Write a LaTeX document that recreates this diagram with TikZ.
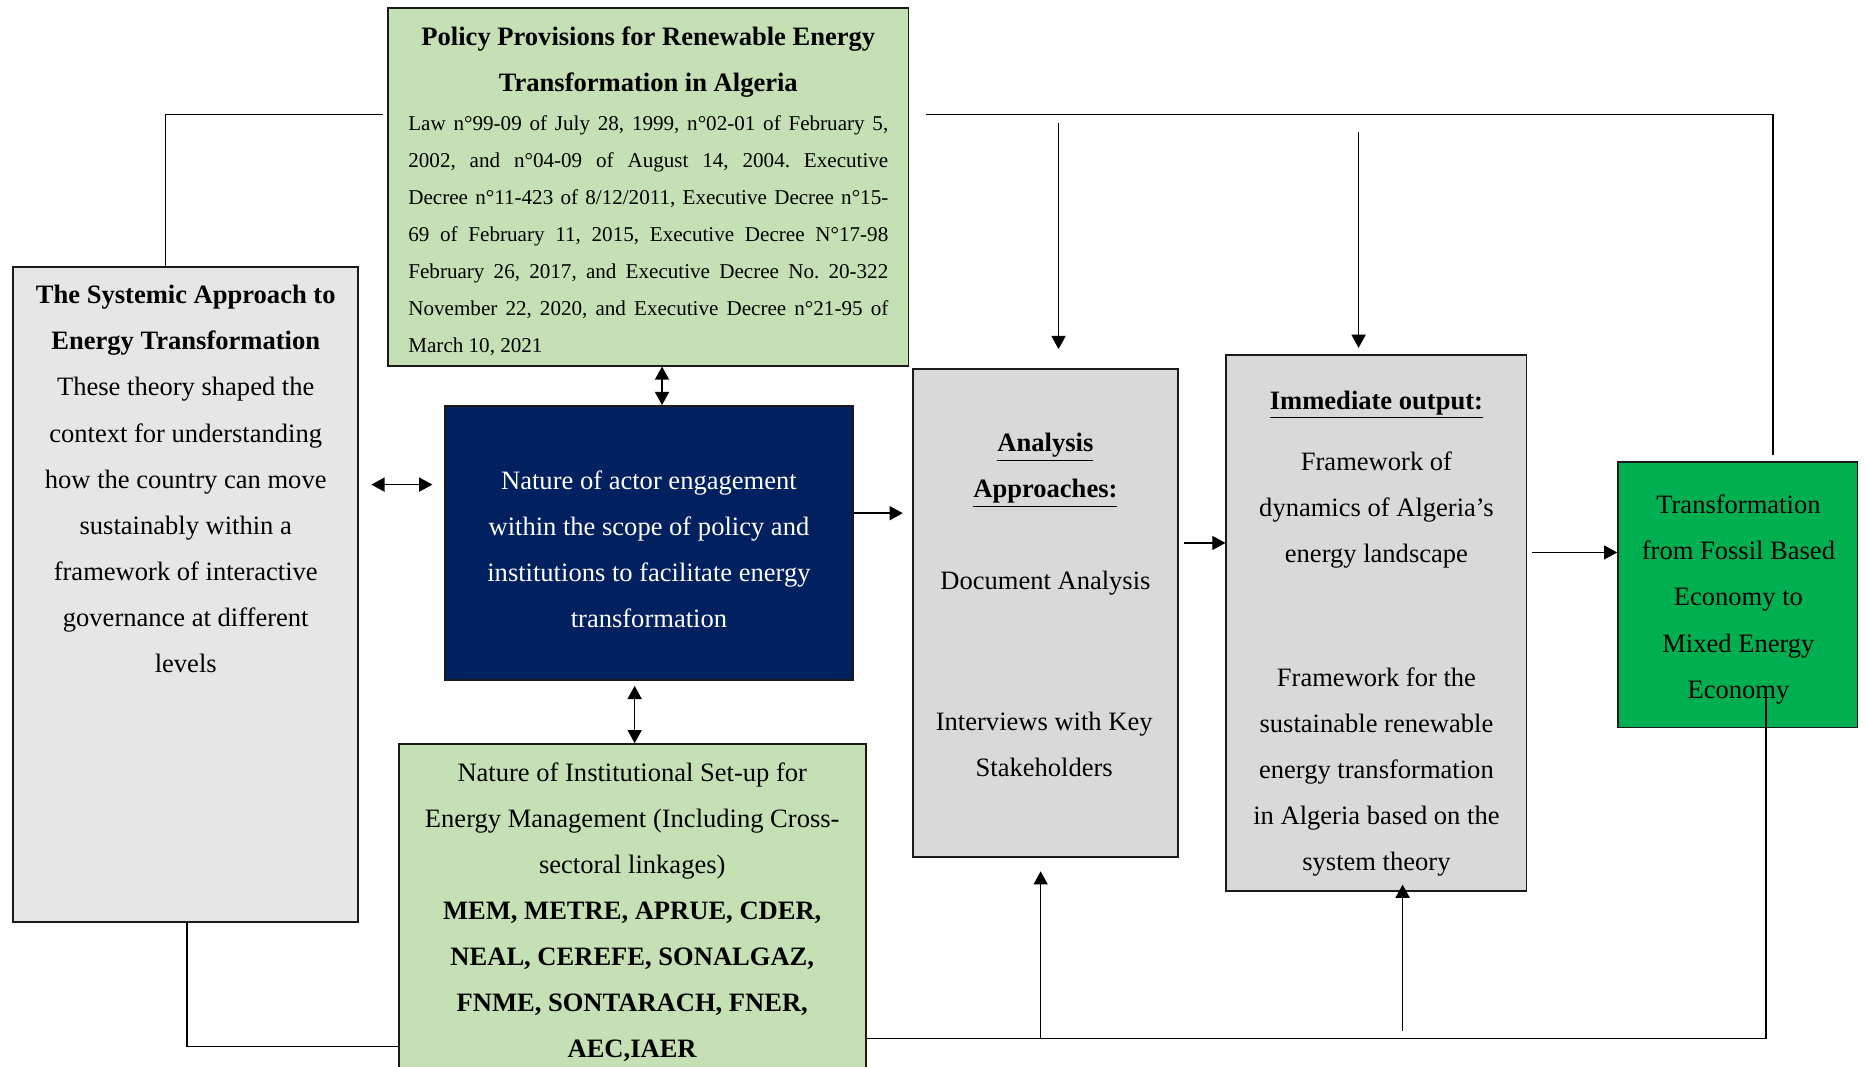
\documentclass[tikz,border=0pt]{standalone}
\usepackage{fontspec}
\setmainfont{Liberation Serif}
\usetikzlibrary{arrows.meta,fit}
\definecolor{polgreen}{HTML}{C5E0B4}
\definecolor{sysgray}{HTML}{E7E6E6}
\definecolor{boxgray}{HTML}{D9D9D9}
\definecolor{navyblue}{HTML}{002060}
\definecolor{brightgreen}{HTML}{00B050}
\definecolor{edgecol}{HTML}{1A1A1A}
\frenchspacing
\begin{document}
\begin{tikzpicture}[x=0.02381cm, y=-0.02381cm,
  box/.style={draw=edgecol, line width=1.1pt, inner sep=0pt},
  txt/.style={inner sep=0pt, align=center, font=\fontsize{15.1}{26.2}\selectfont},
  btxt/.style={txt, font=\fontsize{15.1}{26.2}\selectfont\bfseries},
  conn/.style={draw=black, line width=0.8pt},
  arr/.style={conn, -{Triangle[length=7.5pt,width=8pt]}},
  dbl/.style={conn, {Triangle[length=7.5pt,width=8pt]}-{Triangle[length=7.5pt,width=8pt]}},
]
\useasboundingbox (0,0) rectangle (1568,896);
\fill[white] (0,0) rectangle (1568,896);
\clip (0,0) rectangle (1568,896);

% boxes
\node[box, fill=polgreen, fit={(326,7)(763,307)}] (policy) {};
\node[box, fill=sysgray, fit={(11,224)(301,774)}] (sys) {};
\node[box, fill=navyblue, fit={(374,341)(716,571)}] (nature) {};
\node[box, fill=polgreen, fit={(335,625)(727,930)}] (inst) {};
\node[box, fill=boxgray, fit={(767,310)(989,720)}] (analysis) {};
\node[box, fill=boxgray, fit={(1030,298)(1282,748)}] (imm) {};
\node[box, fill=brightgreen, fit={(1359,388)(1560,611)}] (trans) {};

% texts
\node[btxt] (polH) at (544.5,52) {Policy Provisions for Renewable Energy\\Transformation in Algeria};
\node[inner sep=0pt, text width=9.595cm, align=justify, font=\fontsize{12}{21}\selectfont] (polB) at (544.5,198)
 {\noindent Law n°99-09 of July 28, 1999, n°02-01 of February 5,\linebreak
 2002, and n°04-09 of August 14, 2004. Executive\linebreak
 Decree n°11-423 of 8/12/2011, Executive Decree n°15-\linebreak
 69 of February 11, 2015, Executive Decree N°17-98\linebreak
 February 26, 2017, and Executive Decree No. 20-322\linebreak
 November 22, 2020, and Executive Decree n°21-95 of\linebreak
 March 10, 2021};

\node[btxt] (sysH) at (156,269) {The Systemic Approach to\\Energy Transformation};
\node[txt] (sysB) at (156,441) {These theory shaped the\\context for understanding\\how the country can move\\sustainably within a\\framework of interactive\\governance at different\\levels};

\node[txt, text=white] (natT) at (545,461) {Nature of actor engagement\\within the scope of policy and\\institutions to facilitate energy\\transformation};

\node[txt] (instT) at (531,766) {Nature of Institutional Set-up for\\Energy Management (Including Cross-\\sectoral linkages)\\\textbf{MEM, METRE, APRUE, CDER,}\\\textbf{NEAL, CEREFE, SONALGAZ,}\\\textbf{FNME, SONTARACH, FNER,}\\\textbf{AEC,IAER}};

\node[txt] (anH) at (878,395) {\underline{\textbf{Analysis}}\\\underline{\textbf{Approaches:}}};
\node[txt] (anD) at (878,490) {Document Analysis};
\node[txt] (anI) at (877,625) {Interviews with Key\\Stakeholders};

\node[txt] (imH) at (1156,340) {\underline{\textbf{Immediate output:}}};
\node[txt] (im1) at (1156,428.5) {Framework of\\dynamics of Algeria's\\energy landscape};
\node[txt] (im2) at (1156,648.5) {Framework for the\\sustainable renewable\\energy transformation\\in Algeria based on the\\system theory};

\node[txt] (trT) at (1460,503.5) {Transformation\\from Fossil Based\\Economy to\\Mixed Energy\\Economy};

% helper coordinates
\coordinate (x139) at (139,0);
\coordinate (tl) at (322,96);
\coordinate (tr) at (778,96);
\coordinate (x1489) at (1489,0);
\coordinate (a3s) at (889,103);
\coordinate (a4s) at (1141,111);
\coordinate (x556) at (556,0);
\coordinate (y407) at (0,407);
\coordinate (y431) at (0,431);
\coordinate (x533) at (533,0);
\coordinate (y456) at (0,456);
\coordinate (y464) at (0,464);
\coordinate (y872) at (0,872);
\coordinate (br) at (1483,578);
\coordinate (a12s) at (874,872);
\coordinate (a13s) at (1178,866);
\coordinate (x157) at (157,0);
\coordinate (y879) at (0,879);

% connectors
\draw[conn] (sys.north -| x139) |- (tl);
\draw[conn, shorten >=0.12cm] (tr) -| (trans.north -| x1489);
\draw[arr, shorten >=0.38cm] (a3s) -- (analysis.north -| a3s);
\draw[arr, shorten >=0.12cm] (a4s) -- (imm.north -| a4s);
\draw[dbl] (policy.south -| x556) -- (nature.north -| x556);
\draw[dbl, shorten <=0.24cm, shorten >=0.24cm] (sys.east |- y407) -- (nature.west |- y407);
\draw[arr, shorten >=0.19cm] (nature.east |- y431) -- (analysis.west |- y431);
\draw[dbl, shorten <=0.1cm] (nature.south -| x533) -- (inst.north -| x533);
\draw[arr, shorten <=0.1cm] (analysis.east |- y456) -- (imm.west |- y456);
\draw[arr, shorten <=0.1cm] (imm.east |- y464) -- (trans.west |- y464);
\draw[conn] (inst.east |- y872) -| (br);
\draw[arr, shorten >=0.26cm] (a12s) -- (analysis.south -| a12s);
\draw[arr, shorten >=-0.14cm] (a13s) -- (imm.south -| a13s);
\draw[conn] (sys.south -| x157) |- (inst.west |- y879);
\end{tikzpicture}
\end{document}
